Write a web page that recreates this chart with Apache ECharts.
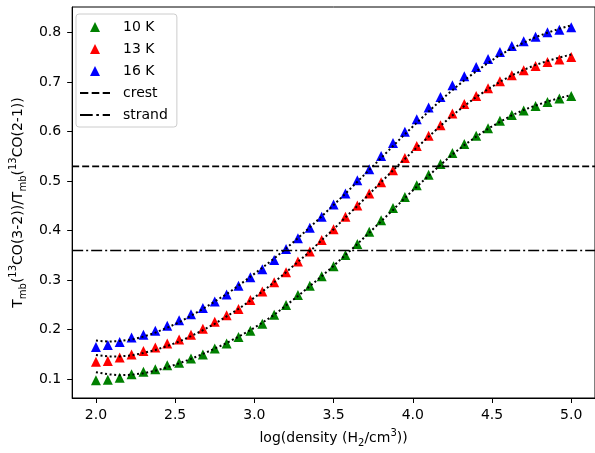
<!DOCTYPE html>
<html lang="en">
<head>
    <meta charset="UTF-8">
    <title>Line ratio vs density</title>
    <script src="https://cdn.jsdelivr.net/npm/echarts@6/dist/echarts.min.js"></script>
    <style>
        body { margin: 0; background: #fff; }
        #main { width: 595px; height: 453px; }
    </style>
</head>
<body>
<div id="main"></div>
<script>
    // log(density) sample points
    var logDensity = [2.0, 2.075, 2.15, 2.225, 2.3, 2.375, 2.45, 2.525, 2.6, 2.675,
        2.75, 2.825, 2.9, 2.975, 3.05, 3.125, 3.2, 3.275, 3.35, 3.425,
        3.5, 3.575, 3.65, 3.725, 3.8, 3.875, 3.95, 4.025, 4.1, 4.175,
        4.25, 4.325, 4.4, 4.475, 4.55, 4.625, 4.7, 4.775, 4.85, 4.925, 5.0];

    // line ratio, model points (triangles)
    var ratio10K = [0.098, 0.099, 0.103, 0.110, 0.115, 0.120, 0.128, 0.133, 0.142, 0.150,
        0.162, 0.172, 0.185, 0.198, 0.212, 0.230, 0.250, 0.270, 0.289, 0.308,
        0.328, 0.351, 0.373, 0.398, 0.421, 0.446, 0.468, 0.492, 0.513, 0.535,
        0.557, 0.575, 0.592, 0.607, 0.622, 0.634, 0.643, 0.652, 0.660, 0.667, 0.672];
    var ratio13K = [0.135, 0.137, 0.144, 0.150, 0.157, 0.164, 0.172, 0.180, 0.190, 0.202,
        0.216, 0.229, 0.242, 0.260, 0.277, 0.296, 0.316, 0.338, 0.358, 0.381,
        0.403, 0.428, 0.451, 0.475, 0.498, 0.522, 0.547, 0.571, 0.592, 0.613,
        0.637, 0.656, 0.672, 0.688, 0.702, 0.714, 0.724, 0.733, 0.741, 0.746, 0.751];
    var ratio16K = [0.165, 0.169, 0.175, 0.184, 0.190, 0.198, 0.208, 0.219, 0.231, 0.244,
        0.257, 0.271, 0.289, 0.306, 0.322, 0.341, 0.363, 0.385, 0.406, 0.428,
        0.453, 0.475, 0.502, 0.524, 0.551, 0.577, 0.600, 0.625, 0.649, 0.670,
        0.694, 0.712, 0.731, 0.747, 0.761, 0.773, 0.783, 0.792, 0.801, 0.806, 0.811];

    // fitted curves (black dotted)
    var fit10K = [0.114, 0.110, 0.108, 0.109, 0.112, 0.117, 0.124, 0.132, 0.141, 0.151,
        0.162, 0.173, 0.186, 0.199, 0.214, 0.230, 0.249, 0.268, 0.288, 0.308,
        0.329, 0.351, 0.373, 0.396, 0.419, 0.442, 0.466, 0.489, 0.511, 0.533,
        0.554, 0.573, 0.590, 0.606, 0.620, 0.633, 0.644, 0.653, 0.661, 0.668, 0.674];
    var fit13K = [0.149, 0.146, 0.146, 0.148, 0.153, 0.159, 0.167, 0.176, 0.187, 0.199,
        0.212, 0.227, 0.242, 0.259, 0.277, 0.296, 0.316, 0.337, 0.358, 0.381,
        0.403, 0.427, 0.450, 0.474, 0.498, 0.522, 0.545, 0.568, 0.590, 0.612,
        0.633, 0.652, 0.670, 0.686, 0.701, 0.714, 0.725, 0.735, 0.743, 0.750, 0.756];
    var fit16K = [0.178, 0.176, 0.177, 0.180, 0.186, 0.194, 0.204, 0.215, 0.228, 0.242,
        0.257, 0.272, 0.289, 0.307, 0.325, 0.344, 0.364, 0.385, 0.407, 0.429,
        0.452, 0.475, 0.499, 0.523, 0.547, 0.571, 0.595, 0.618, 0.641, 0.663,
        0.684, 0.704, 0.722, 0.739, 0.755, 0.768, 0.780, 0.791, 0.800, 0.808, 0.815];

    // horizontal reference levels
    var crestLevel = 0.53;
    var strandLevel = 0.36;

    var xTicks = [2.0, 2.5, 3.0, 3.5, 4.0, 4.5, 5.0];
    var yTicks = [0.1, 0.2, 0.3, 0.4, 0.5, 0.6, 0.7, 0.8];
    var xMin = 1.85, xMax = 5.15;
    var yMin = 0.062, yMax = 0.852;

    function pairs(ys) {
        return logDensity.map(function (x, i) { return [x, ys[i]]; });
    }

    var font = 'DejaVu Sans';
    // legend icons: triangle marker, dashed and dash-dot handles
    var triIcon = 'path://M5,0L10,10L0,10Z';
    var dashIcon = 'path://M0,0h8.3v2h-8.3z M11.7,0h7.6v2h-7.6z M22.7,0h7.3v2h-7.3z';
    var dashDotIcon = 'path://M0,0h12.7v2h-12.7z M16.3,0h2.6v2h-2.6z M22.7,0h7.3v2h-7.3z';
    var chart = echarts.init(document.getElementById('main'));

    var markerSeries = function (name, color, ys) {
        return {
            name: name,
            type: 'scatter',
            symbol: 'triangle',
            symbolSize: 10,
            itemStyle: { color: color, opacity: 1 },
            data: pairs(ys),
            z: 2
        };
    };
    var fitSeries = function (ys) {
        return {
            name: 'fit',
            type: 'line',
            showSymbol: false,
            symbol: 'none',
            lineStyle: { color: '#000', width: 2, type: [2, 2.6] },
            data: pairs(ys),
            z: 3
        };
    };
    var levelSeries = function (name, level, dash) {
        return {
            name: name,
            type: 'line',
            symbol: 'none',
            showSymbol: false,
            lineStyle: { color: '#000', width: 1.7, type: dash },
            itemStyle: { color: '#000' },
            data: [[xMin, level], [xMax, level]],
            z: 4
        };
    };

    var option = {
        animation: false,
        textStyle: { fontFamily: font },
        grid: { left: 68, right: -1, top: 7, bottom: 52, show: true, borderColor: '#000', borderWidth: 1 },
        legend: {
            orient: 'vertical',
            left: 76,
            top: 14,
            padding: [5, 9, 4, 4],
            itemWidth: 30,
            itemHeight: 10,
            itemGap: 6,
            symbolKeepAspect: true,
            backgroundColor: 'rgba(255,255,255,0.8)',
            borderColor: '#cccccc',
            borderWidth: 1,
            borderRadius: 3,
            textStyle: { fontFamily: font, fontSize: 14, color: '#000', lineHeight: 16, padding: [0, 0, 0, 8] },
            data: [
                { name: '10 K', icon: triIcon },
                { name: '13 K', icon: triIcon },
                { name: '16 K', icon: triIcon },
                { name: 'crest', icon: dashIcon },
                { name: 'strand', icon: dashDotIcon }
            ]
        },
        xAxis: {
            type: 'value',
            min: xMin,
            max: xMax,
            name: 'log(density (H{sub|2}/cm{sup|3}))',
            nameLocation: 'middle',
            nameGap: 30,
            nameTextStyle: {
                fontFamily: font, fontSize: 14, color: '#000', lineHeight: 20,
                rich: {
                    sub: { fontFamily: font, fontSize: 10, color: '#000', verticalAlign: 'bottom', lineHeight: 10 },
                    sup: { fontFamily: font, fontSize: 10, color: '#000', verticalAlign: 'top', lineHeight: 10 }
                }
            },
            axisLine: { show: true, onZero: false, lineStyle: { color: '#000', width: 1 } },
            axisTick: { show: true, length: 5, customValues: xTicks, lineStyle: { color: '#000' } },
            axisLabel: {
                customValues: xTicks,
                fontFamily: font, fontSize: 14, color: '#000', margin: 10,
                formatter: function (v) { return v.toFixed(1); }
            },
            splitLine: { show: false }
        },
        yAxis: {
            type: 'value',
            min: yMin,
            max: yMax,
            name: 'T{sub|mb}({sup|13}CO(3-2))/T{sub|mb}({sup|13}CO(2-1))',
            nameLocation: 'middle',
            nameRotate: 90,
            nameGap: 43,
            nameTextStyle: {
                fontFamily: font, fontSize: 14, color: '#000', lineHeight: 20,
                rich: {
                    sub: { fontFamily: font, fontSize: 10, color: '#000', verticalAlign: 'bottom', lineHeight: 10 },
                    sup: { fontFamily: font, fontSize: 10, color: '#000', verticalAlign: 'top', lineHeight: 10 }
                }
            },
            axisLine: { show: true, onZero: false, lineStyle: { color: '#000', width: 1 } },
            axisTick: { show: true, length: 5, customValues: yTicks, lineStyle: { color: '#000' } },
            axisLabel: {
                customValues: yTicks,
                fontFamily: font, fontSize: 14, color: '#000', margin: 11,
                formatter: function (v) { return v.toFixed(1); }
            },
            splitLine: { show: false }
        },
        series: [
            markerSeries('10 K', '#008000', ratio10K),
            markerSeries('13 K', '#ff0000', ratio13K),
            markerSeries('16 K', '#0000ff', ratio16K),
            fitSeries(fit10K),
            fitSeries(fit13K),
            fitSeries(fit16K),
            levelSeries('crest', crestLevel, [7, 3]),
            levelSeries('strand', strandLevel, [11, 3, 2, 3])
        ]
    };

    chart.setOption(option);
</script>
</body>
</html>
